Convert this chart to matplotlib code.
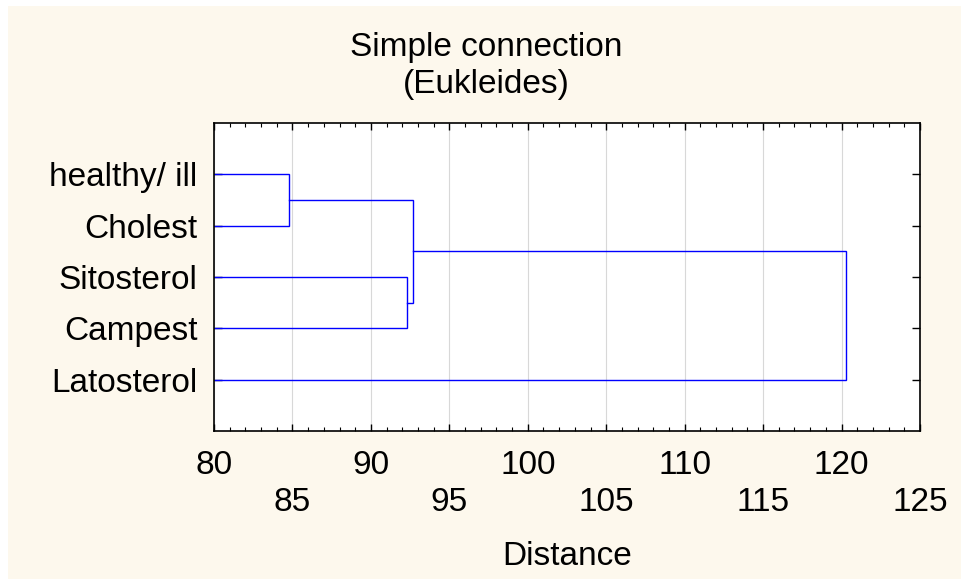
import numpy as np
import matplotlib
matplotlib.use("Agg")
import matplotlib.pyplot as plt
from matplotlib.patches import Rectangle

plt.rcParams['font.family'] = ['Liberation Sans', 'DejaVu Sans']

# leaves, top to bottom
labels = ["healthy/ ill", "Cholest", "Sitosterol", "Campest", "Latosterol"]
# merges: cluster ids (0-4 leaves, 5.. new clusters), linkage distance
merge_a = [0, 2, 5, 7]
merge_b = [1, 3, 6, 4]
merge_dist = [84.8, 92.3, 92.7, 120.3]

xticks = [80, 85, 90, 95, 100, 105, 110, 115, 120, 125]

CREAM = "#fdf8ed"
LINE = "#0000ff"
FS = 24

fig = plt.figure(figsize=(9.61, 5.79), dpi=100, facecolor="white")
fig.patches.append(Rectangle((8 / 961, 0), 1, 1 - 6 / 579, transform=fig.transFigure,
                             facecolor=CREAM, edgecolor="none", zorder=-10))
ax = fig.add_axes([214 / 961, 1 - 431 / 579, 706 / 961, 308 / 579])
ax.set_facecolor("white")

# positions of each cluster: y (row) and x (height)
ys = list(np.arange(1, len(labels) + 1, dtype=float))
hs = [0.0] * len(labels)
for a, b, d in zip(merge_a, merge_b, merge_dist):
    ax.plot([hs[a], d, d, hs[b]], [ys[a], ys[a], ys[b], ys[b]],
            color=LINE, lw=1.0, solid_joinstyle="miter", zorder=3)
    ys.append((ys[a] + ys[b]) / 2)
    hs.append(d)

ax.set_xlim(80, 125)
ax.set_ylim(len(labels) + 1, 0)

ax.set_yticks(range(1, len(labels) + 1))
ax.set_yticklabels(labels, fontsize=FS)
ax.set_xticks(xticks)
ax.set_xticklabels([str(v) if i % 2 == 0 else "\n" + str(v) for i, v in enumerate(xticks)],
                   fontsize=FS, linespacing=1.22)
ax.set_xticks(np.arange(80, 126, 1), minor=True)

ax.tick_params(axis="x", which="major", direction="in", length=5, width=1,
               top=True, pad=14, labelsize=FS)
ax.tick_params(axis="x", which="minor", direction="in", length=3, width=0.8, top=True)
ax.tick_params(axis="y", which="major", direction="in", length=6, width=1,
               right=True, pad=12, labelsize=FS)
ax.grid(axis="x", which="major", color="#d8d8d8", lw=0.8, zorder=0)
for s in ax.spines.values():
    s.set_linewidth(1.2)
    s.set_zorder(4)

ax.set_xlabel("Distance", fontsize=FS, labelpad=17)

fig.text(486 / 961, 1 - 56 / 579, "Simple connection", fontsize=FS, ha="center", va="baseline")
fig.text(486 / 961, 1 - 92.7 / 579, "(Eukleides)", fontsize=FS, ha="center", va="baseline")

fig.savefig("out.png", dpi=100, facecolor=fig.get_facecolor())
